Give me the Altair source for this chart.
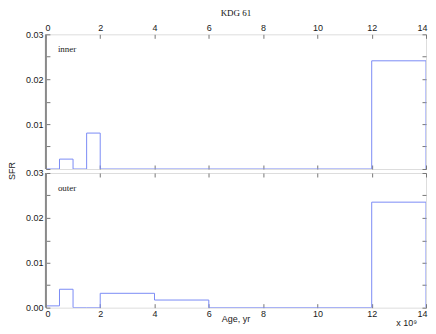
import altair as alt
import pandas as pd

title_text = "KDG 61"
edges = [0, 0.5, 1.0, 1.5, 2.0, 4.0, 6.0, 12.0, 14.0]
inner_sfr = [0.0, 0.0022, 0.0, 0.0080, 0.0, 0.0, 0.0, 0.0241]
outer_sfr = [0.0004, 0.0041, 0.0, 0.0, 0.0032, 0.0017, 0.0, 0.0235]
x_ticks = [0, 2, 4, 6, 8, 10, 12, 14]
y_ticks = [0, 0.005, 0.01, 0.015, 0.02, 0.025, 0.03]
panel_labels = ["inner", "outer"]
x_title = "Age, yr"
y_title = "SFR"
x_mult = "x 10\u2079"

W, H, T = 381, 135, 4
LINE = "#7b8cf5"
SANS = "Liberation Sans"
SERIF = "Liberation Serif"
TICK = "#777777"
one = pd.DataFrame({"a": [0]})


def xs():
    return alt.Scale(domain=[0, 14], nice=False, zero=False)


def ys():
    return alt.Scale(domain=[0, 0.03], nice=False, zero=False)


def txt(text, x, y, font=SANS, align="left", angle=0, baseline="alphabetic"):
    return alt.Chart(one).mark_text(font=font, fontSize=9, align=align, angle=angle,
                                    baseline=baseline, fontWeight="normal",
                                    color="#1a1a1a").encode(
        x=alt.value(x), y=alt.value(y), text=alt.datum(text))


def panel(values, label, top_labels, bottom_labels, hide_zero, extra_texts):
    df = pd.DataFrame({"age": edges, "sfr": values + [0.0]})
    cond = "abs(datum.value*100 - round(datum.value*100)) < 0.001"
    if hide_zero:
        cond = "datum.value > 0.001 && " + cond
    ylab = cond + " ? format(datum.value, '.2f') : ''"

    common = dict(tickSize=T, offset=-T, domain=False, grid=False,
                  tickColor=TICK, labelFont=SANS, labelFontSize=9,
                  labelColor="#1a1a1a", title=None)

    bottom_axis = alt.Axis(orient="bottom", values=x_ticks, labels=bottom_labels,
                           labelPadding=2, labelFlush=True, labelFlushOffset=1, **common)
    top_axis = alt.Axis(orient="top", values=x_ticks, labels=top_labels,
                        labelPadding=2, labelFlush=True, labelFlushOffset=1, **common)
    left_axis = alt.Axis(orient="left", values=y_ticks, labelExpr=ylab,
                         labelPadding=3, labelOverlap=False, labelFlush=False, **common)
    right_axis = alt.Axis(orient="right", values=y_ticks, labels=False, **common)

    line = alt.Chart(df).mark_line(interpolate="step-after", color=LINE,
                                   strokeWidth=1, clip=True).encode(
        x=alt.X("age:Q", scale=xs(), axis=bottom_axis),
        y=alt.Y("sfr:Q", scale=ys(), axis=left_axis),
    )
    frame_left = alt.Chart(one).mark_rule(color="#8a8a8a", strokeWidth=2).encode(
        x=alt.X(datum=0, type="quantitative", scale=xs(), axis=top_axis),
        y=alt.Y(datum=0, type="quantitative", scale=ys(), axis=right_axis),
        y2=alt.datum(0.03),
    )
    lab = txt(label, 12, 18, font=SERIF)
    layers = [line, frame_left, lab] + extra_texts
    return alt.layer(*layers).resolve_axis(x="independent", y="independent").properties(
        width=W, height=H)


sfr_text = txt(y_title, -34, H + 2, align="center", angle=270, baseline="middle")
age_text = txt(x_title, W / 2, H + 14, align="center")
mult_text = txt(x_mult, 372, H + 18, align="right")

top = panel(inner_sfr, panel_labels[0], True, False, True, [sfr_text]).properties(
    title=alt.TitleParams(title_text, font=SERIF, fontSize=9, fontWeight="normal",
                          color="#111111", offset=5))
bottom = panel(outer_sfr, panel_labels[1], False, True, False, [age_text, mult_text])

chart = alt.vconcat(top, bottom, spacing=4, bounds="flush").configure_view(
    stroke="#333333", strokeWidth=1).configure(
    padding={"left": -1, "top": 0, "right": 0, "bottom": -1}, background="white")

chart.save("out.html", embed_options={"renderer": "svg", "actions": False})
